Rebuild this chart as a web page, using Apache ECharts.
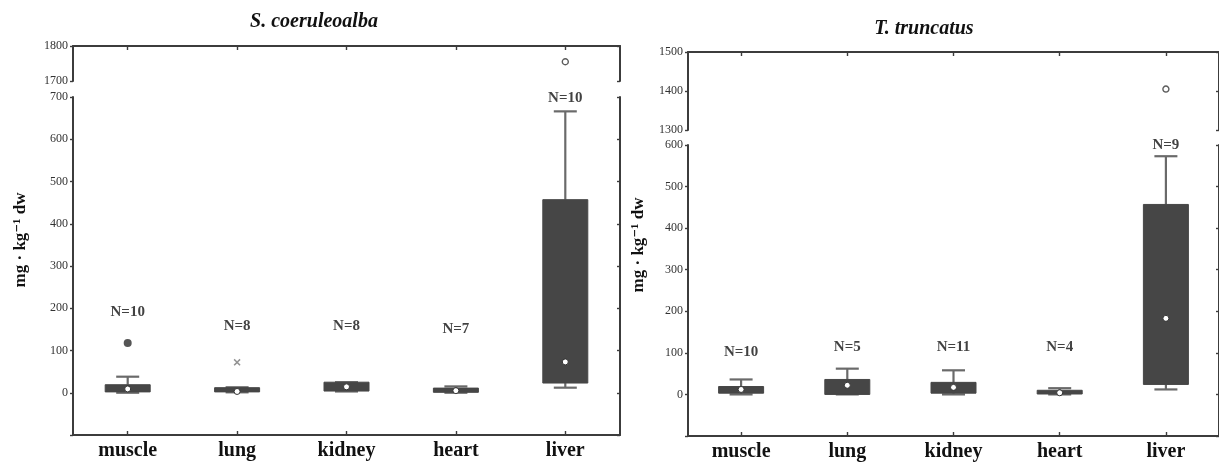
<!DOCTYPE html>
<html><head><meta charset="utf-8">
<script src="https://cdn.jsdelivr.net/npm/echarts@6/dist/echarts.min.js"></script>
<style>html,body{margin:0;padding:0;background:#fff}#c{width:1219px;height:464px}</style>
</head><body><div id="c"></div>
<script>
// ---------- data ----------
const categories = ['muscle', 'lung', 'kidney', 'heart', 'liver'];

// S. coeruleoalba
const scMin    = [0, 1, 3, 0, 12];
const scQ1     = [2, 2, 4, 1, 23];
const scMedian = [9, 3, 14, 5, 73];
const scQ3     = [19, 12, 25, 11, 457];
const scMax    = [38, 13, 25, 15, 666];
const scOutlierCats = ['muscle', 'lung', 'liver'];
const scOutlierVals = [118, 72, 1755];
const scNText = ['N=10', 'N=8', 'N=8', 'N=7', 'N=10'];
const scNPos  = [192, 158, 158, 150, 697];
const scLowerTicks = [-100, 700];
const scUpperTicks = [1700, 1800];

// T. truncatus
const ttMin    = [0, 0, 0, 0, 12];
const ttQ1     = [3, 0, 3, 1, 24];
const ttMedian = [12, 22, 17, 4, 183];
const ttQ3     = [19, 36, 29, 10, 457];
const ttMax    = [36, 62, 58, 15, 573];
const ttOutlierCats = ['liver'];
const ttOutlierVals = [1405];
const ttNText = ['N=10', 'N=5', 'N=11', 'N=4', 'N=9'];
const ttNPos  = [101, 113, 113, 113, 600];
const ttLowerTicks = [-100, 600];
const ttUpperTicks = [1300, 1500];

// ---------- style ----------
const serif = '"Liberation Serif","DejaVu Serif",serif';
const AX = '#3c3c3c';
const BOX = '#464646';
const WHISK = '#6a6a6a';

const chart = echarts.init(document.getElementById('c'), null, {renderer: 'canvas'});

const panels = [
  {left: 73, width: 547, uTop: 46, uH: 35, lTop: 97, lH: 338,
   lower: scLowerTicks, upper: scUpperTicks},
  {left: 688, width: 540, uTop: 52, uH: 78, lTop: 145, lH: 291,
   lower: ttLowerTicks, upper: ttUpperTicks}
];

const grids = [], xAxes = [], yAxes = [];
panels.forEach((p, pi) => {
  grids.push({left: p.left, width: p.width, top: p.uTop, height: p.uH});
  grids.push({left: p.left, width: p.width, top: p.lTop, height: p.lH});
  [0, 1].forEach(k => {
    const g = pi * 2 + k;
    const upper = k === 0;
    const rng = upper ? p.upper : p.lower;
    xAxes.push({
      type: 'category', gridIndex: g, data: categories,
      position: upper ? 'top' : 'bottom',
      axisLine: {show: true, onZero: false, lineStyle: {color: AX, width: 2}},
      axisTick: {show: true, inside: true, alignWithLabel: true, length: 4, lineStyle: {color: AX, width: 1.4}},
      axisLabel: {show: !upper, fontFamily: serif, fontSize: 20, fontWeight: 'bold', color: '#111', margin: 6},
      splitLine: {show: false}
    });
    yAxes.push({
      type: 'value', gridIndex: g, min: rng[0], max: rng[1], interval: 100, position: 'left',
      axisLine: {show: true, lineStyle: {color: AX, width: 2}},
      axisTick: {show: true, length: 3, lineStyle: {color: AX, width: 1.4}},
      axisLabel: {fontFamily: serif, fontSize: 12, color: '#333', margin: 5,
                  formatter: v => (v < 0 ? '' : String(v))},
      splitLine: {show: false}
    });
    yAxes.push({
      type: 'value', gridIndex: g, min: rng[0], max: rng[1], interval: 100, position: 'right',
      axisLine: {show: true, lineStyle: {color: AX, width: 2}},
      axisTick: {show: true, inside: true, length: 3, lineStyle: {color: AX, width: 1.4}},
      axisLabel: {show: false},
      splitLine: {show: false}
    });
  });
});

function boxRender(params, api) {
  const i = api.value(0);
  const pMin = api.coord([i, api.value(1)]);
  const pQ1 = api.coord([i, api.value(2)]);
  const pMed = api.coord([i, api.value(3)]);
  const pQ3 = api.coord([i, api.value(4)]);
  const pMax = api.coord([i, api.value(5)]);
  const x = pMed[0], bw = 45, cw = 23;
  const ls = {stroke: WHISK, lineWidth: 2.2};
  return {type: 'group', children: [
    {type: 'line', shape: {x1: x, y1: pMax[1], x2: x, y2: pQ3[1]}, style: ls},
    {type: 'line', shape: {x1: x - cw / 2, y1: pMax[1], x2: x + cw / 2, y2: pMax[1]}, style: ls},
    {type: 'line', shape: {x1: x, y1: pMin[1], x2: x, y2: pQ1[1]}, style: ls},
    {type: 'line', shape: {x1: x - cw / 2, y1: pMin[1], x2: x + cw / 2, y2: pMin[1]}, style: ls},
    {type: 'rect', shape: {x: x - bw / 2, y: pQ3[1], width: bw, height: Math.max(pQ1[1] - pQ3[1], 3)},
     style: {fill: BOX, stroke: BOX, lineWidth: 1}},
    {type: 'circle', shape: {cx: x, cy: pMed[1], r: 3}, style: {fill: '#fff', stroke: '#333', lineWidth: 1}}
  ]};
}

const series = [];
function addPanel(pi, mins, q1s, meds, q3s, maxs, outCats, outVals, nText, nPos) {
  const gU = pi * 2, gL = pi * 2 + 1;
  series.push({
    type: 'custom', xAxisIndex: gL, yAxisIndex: gL * 2, renderItem: boxRender, clip: false,
    encode: {x: 0, y: [1, 2, 3, 4, 5]},
    data: categories.map((c, i) => [i, mins[i], q1s[i], meds[i], q3s[i], maxs[i]])
  });
  outCats.forEach((c, k) => {
    const idx = categories.indexOf(c);
    const v = outVals[k];
    const upper = v > yAxes[gL * 2].max;
    const g = upper ? gU : gL;
    let sym = 'circle', size = 6, st = {color: '#fff', borderColor: '#333', borderWidth: 1.4};
    if (!upper && c === 'muscle') { size = 8; st = {color: '#2a2a2a', borderWidth: 0}; }
    if (!upper && c === 'lung') {
      sym = 'path://M0,1.5L1.5,0L5,3.5L8.5,0L10,1.5L6.5,5L10,8.5L8.5,10L5,6.5L1.5,10L0,8.5L3.5,5Z';
      size = 7; st = {color: '#777', borderWidth: 0};
    }
    series.push({
      type: 'scatter', xAxisIndex: g, yAxisIndex: g * 2, symbol: sym, symbolSize: size,
      itemStyle: st, silent: true, data: [[idx, v]]
    });
  });
  series.push({
    type: 'scatter', xAxisIndex: gL, yAxisIndex: gL * 2, symbolSize: 0, silent: true, clip: false,
    data: categories.map((c, i) => [i, nPos[i]]),
    label: {show: true, position: 'inside', formatter: p => nText[p.dataIndex],
            fontFamily: serif, fontSize: 15, fontWeight: 'bold', color: '#111'}
  });
}
addPanel(0, scMin, scQ1, scMedian, scQ3, scMax, scOutlierCats, scOutlierVals, scNText, scNPos);
addPanel(1, ttMin, ttQ1, ttMedian, ttQ3, ttMax, ttOutlierCats, ttOutlierVals, ttNText, ttNPos);

const titleFont = {fontFamily: serif, fontSize: 20, fontWeight: 'bold', fontStyle: 'italic', fill: '#111', align: 'center', verticalAlign: 'middle'};
const yNameFont = {fontFamily: serif, fontSize: 17, fontWeight: 'bold', fill: '#111', align: 'center', verticalAlign: 'middle'};

chart.setOption({
  animation: false,
  backgroundColor: '#fff',
  grid: grids, xAxis: xAxes, yAxis: yAxes, series: series,
  graphic: [
    {type: 'text', x: 314, y: 22, style: Object.assign({text: 'S. coeruleoalba'}, titleFont)},
    {type: 'text', x: 924, y: 29, style: Object.assign({text: 'T. truncatus'}, titleFont)},
    {type: 'text', x: 21, y: 240, rotation: Math.PI / 2, style: Object.assign({text: 'mg · kg⁻¹ dw'}, yNameFont)},
    {type: 'text', x: 639, y: 245, rotation: Math.PI / 2, style: Object.assign({text: 'mg · kg⁻¹ dw'}, yNameFont)}
  ]
});
</script></body></html>
